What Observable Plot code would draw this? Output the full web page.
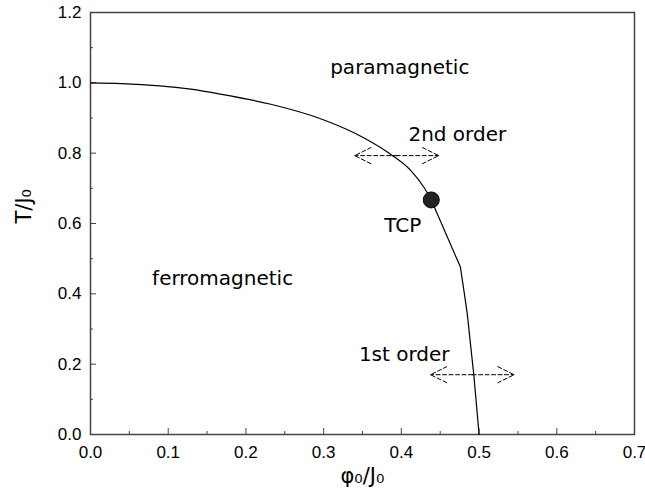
<!DOCTYPE html>
<html><head><meta charset="utf-8">
<script src="https://cdn.jsdelivr.net/npm/d3@7"></script>
<script src="https://cdn.jsdelivr.net/npm/@observablehq/plot@0.6"></script>
<style>html,body{margin:0;padding:0;background:#fff} svg{display:block}</style>
</head><body><div id="chart"></div>
<script>
// Phase boundary T/J0 vs phi0/J0
const phi  = [0, 0.04, 0.129, 0.167, 0.232, 0.296, 0.339, 0.382, 0.412, 0.429, 0.4385, 0.476, 0.4805, 0.4848, 0.4933, 0.5];
const temp = [1.0, 0.998, 0.982, 0.968, 0.939, 0.898, 0.858, 0.803, 0.751, 0.703, 0.667, 0.476, 0.409, 0.343, 0.168, 0.0];

// Tricritical point
const tcpPhi = [0.4385];
const tcpT = [0.667];

// Axis ticks
const xMajor = [0, 0.1, 0.2, 0.3, 0.4, 0.5, 0.6, 0.7];
const xMinor = [0.05, 0.15, 0.25, 0.35, 0.45, 0.55, 0.65];
const yMajor = [0, 0.2, 0.4, 0.6, 0.8, 1.0, 1.2];
const yMinor = [0.1, 0.3, 0.5, 0.7, 0.9, 1.1];

// Annotations
const noteText = ["paramagnetic", "ferromagnetic", "TCP", "2nd order", "1st order"];
const notePhi  = [0.398, 0.170, 0.4018, 0.472, 0.4037];
const noteT    = [1.044, 0.442, 0.593, 0.854, 0.227];

// Double-headed dashed arrows
const arrowT     = [0.793, 0.17];
const arrowLeft  = [0.34, 0.4376];
const arrowRight = [0.448, 0.545];

const curve = phi.map((p, i) => ({phi: p, T: temp[i]}));
const upper = curve.filter(d => d.phi <= tcpPhi[0]);   // second-order branch
const lower = curve.filter(d => d.phi >= tcpPhi[0]);   // first-order branch
const tcp = tcpPhi.map((p, i) => ({phi: p, T: tcpT[i]}));
const notes = noteText.map((t, i) => ({text: t, phi: notePhi[i], T: noteT[i]}));
const arrows = arrowT.flatMap((t, i) => [
  {x1: arrowRight[i], x2: arrowLeft[i], y: t},
  {x1: arrowLeft[i], x2: arrowRight[i], y: t}
]);

const labelFont = "DejaVu Sans, sans-serif";
const tickFont = "Liberation Sans, Arial, sans-serif";

const chart = Plot.plot({
  width: 645,
  height: 492,
  marginLeft: 90,
  marginRight: 11,
  marginTop: 12,
  marginBottom: 58,
  x: {domain: [0, 0.7]},
  y: {domain: [0, 1.2]},
  style: {background: "#fff", color: "#000", fontFamily: tickFont, fontSize: "17px", overflow: "visible"},
  marks: [
    Plot.frame({stroke: "#444", strokeWidth: 1.5}),
    Plot.axisX(xMajor, {tickSize: -6, tickPadding: 17, tickFormat: d3.format(".1f"), fontSize: 17, fontFamily: tickFont, stroke: "#444", label: null}),
    Plot.axisX(xMinor, {tickSize: -3, tickFormat: () => "", stroke: "#444", label: null}),
    Plot.axisY(yMajor, {tickSize: -6, tickPadding: 15, tickFormat: d3.format(".1f"), fontSize: 17, fontFamily: tickFont, stroke: "#444", label: null}),
    Plot.axisY(yMinor, {tickSize: -3, tickFormat: () => "", stroke: "#444", label: null}),
    Plot.line(upper, {x: "phi", y: "T", stroke: "#000", strokeWidth: 1.2, curve: "monotone-x"}),
    Plot.line(lower, {x: "phi", y: "T", stroke: "#000", strokeWidth: 1.2, curve: "linear"}),
    Plot.arrow(arrows, {x1: "x1", x2: "x2", y1: "y", y2: "y", stroke: "#000", strokeWidth: 1, strokeDasharray: "4,2.5", headLength: 27, headAngle: 53, insetStart: 41.5}),
    Plot.dot(tcp, {x: "phi", y: "T", r: 8, fill: "#222", stroke: "#000", strokeWidth: 1}),
    Plot.text(notes, {x: "phi", y: "T", text: "text", fontSize: 20, fontFamily: labelFont, fill: "#000", textAnchor: "middle", lineAnchor: "middle"}),
    Plot.text(["φ₀/J₀"], {text: d => d, frameAnchor: "bottom", dy: 42, lineAnchor: "middle", fontSize: 21, fontFamily: labelFont, fill: "#000"}),
    Plot.text(["T/J₀"], {text: d => d, frameAnchor: "left", dx: -66, rotate: -90, lineAnchor: "middle", fontSize: 21, fontFamily: labelFont, fill: "#000"})
  ]
});
document.getElementById("chart").appendChild(chart);
</script>
</body></html>
